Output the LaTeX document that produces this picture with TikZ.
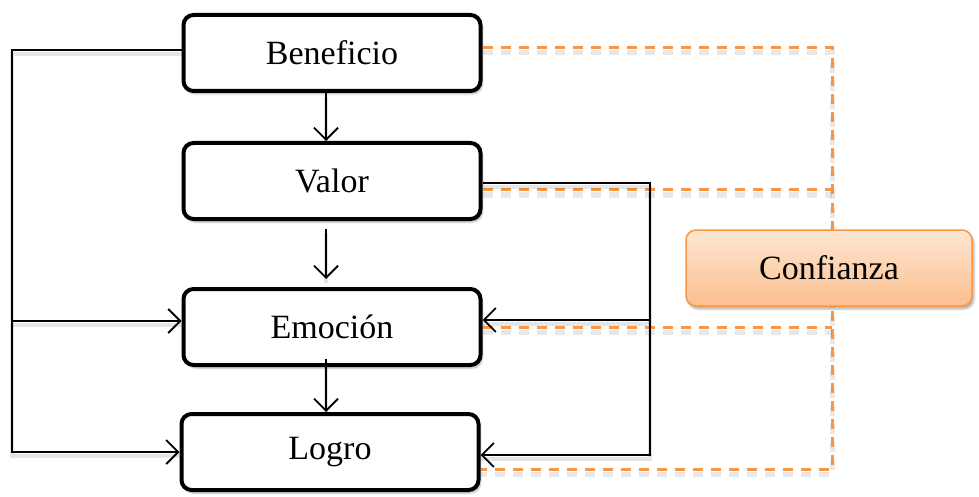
\documentclass[tikz,border=0pt]{standalone}
\usepackage{fontspec}
\setmainfont{Liberation Serif}
\usetikzlibrary{arrows.meta,shadows.blur}
\definecolor{accent}{HTML}{F79646}
\definecolor{accentlight}{HTML}{FEE6D2}
\definecolor{accentmid}{HTML}{FBBF8E}
\begin{document}
\begin{tikzpicture}[x=1pt,y=-1pt,
  box/.style={draw=black, line width=4pt, rounded corners=10pt, fill=white,
    minimum width=297pt, minimum height=76pt, inner sep=0pt,
    font=\fontsize{34}{40}\selectfont,
    blur shadow={shadow xshift=2pt, shadow yshift=-3pt, shadow blur steps=6, shadow opacity=30}},
  trustbox/.style={draw=accent, line width=1.5pt, rounded corners=10pt,
    top color=accentlight, bottom color=accentmid,
    minimum width=286pt, minimum height=76pt, inner sep=0pt,
    font=\fontsize{34}{40}\selectfont,
    blur shadow={shadow xshift=2pt, shadow yshift=-3pt, shadow blur steps=6, shadow opacity=30}},
  softshadow/.style={preaction={draw=black, -, opacity=0.10, line width=4pt,
    transform canvas={yshift=-4pt}}},
  dashshadow/.style={preaction={draw=black, opacity=0.09, line width=5pt,
    dash pattern=on 10pt off 8pt, transform canvas={yshift=-5pt}}},
  link/.style={draw=black, line width=1.8pt, softshadow,
    -{Straight Barb[length=12pt,width=24pt,line width=1.8pt]}},
  trust/.style={draw=accent, line width=3pt, dash pattern=on 10pt off 8pt, dashshadow}]
\useasboundingbox (0,0) rectangle (979,497);

% main chain
\node[box] (ben) at (332,53)  {Beneficio};
\node[box] (val) at (332,181) {Valor};
\node[box] (emo) at (332,327) {Emoción};
\node[box] (log) at (330,452) {Logro};

% guide coordinates for the routed connectors
\coordinate (L) at (12,0);
\coordinate (R) at (650,0);
\coordinate (T) at (832,0);

% dashed links to Confianza
\draw[trust] ([yshift=5pt]ben.east) -- ([yshift=5pt]ben.east -| T) -- ([yshift=-17pt]log.east -| T) -- ([yshift=-17pt]log.east);
\draw[trust] ([yshift=-9pt]val.east) -- ([yshift=-9pt]val.east -| T);
\draw[trust] (emo.east) -- (emo.east -| T);

\node[trustbox] (conf) at (829,268) {Confianza};

% vertical flow
\draw[link] ([xshift=-6pt]ben.south) -- ([xshift=-6pt]val.north);
\draw[link, shorten <=8pt, shorten >=8pt] ([xshift=-6pt]val.south) -- ([xshift=-6pt]emo.north);
\draw[link] ([xshift=-6pt,yshift=8pt]emo.south) -- ([xshift=-6pt]emo.south |- log.north);

% left feedback line
\draw[link] ([yshift=3pt]ben.west) -- ([yshift=3pt]ben.west -| L) |- (log.west);
\draw[link] ([yshift=6pt]emo.west -| L) -- ([yshift=6pt]emo.west);

% right feedback line
\draw[link] ([yshift=-2pt]val.east) -- ([yshift=-2pt]val.east -| R) |- ([yshift=-3pt]log.east);
\draw[link] ([yshift=7pt]emo.east -| R) -- ([yshift=7pt]emo.east);
\end{tikzpicture}
\end{document}
